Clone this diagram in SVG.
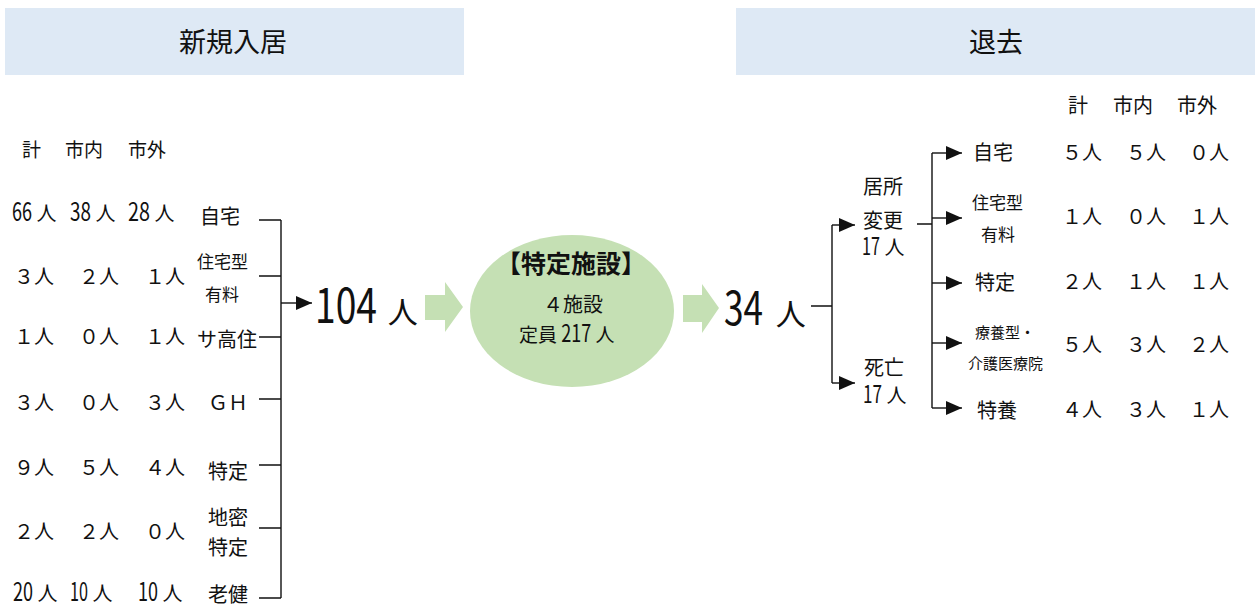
<svg xmlns="http://www.w3.org/2000/svg" width="1255" height="610" viewBox="0 0 1255 610">
<style>
text{font-family:"Noto Sans CJK JP","Noto Sans",sans-serif;fill:#111;}
.h{font-size:27px;}
.t{font-size:20px;}
.s{font-size:17px;}
.xs{font-size:15px;}
.n{font-size:25px;}
.ln{stroke:#111;stroke-width:1.4;fill:none;}
.hdr{fill:#dee9f5;}
.grn{fill:#c5e0b4;}
</style>
<defs>
<marker id="ah" markerUnits="userSpaceOnUse" markerWidth="16" markerHeight="14" refX="16" refY="7" orient="auto">
<path d="M0,0 L16,7 L0,14 Z" fill="#111"/>
</marker>
</defs>

<g id="header-in"><rect class="hdr" x="5" y="8" width="459" height="67"/><text class="h" x="233" y="52" text-anchor="middle">新規入居</text></g>
<g id="header-out"><rect class="hdr" x="736" y="8" width="519" height="67"/><text class="h" x="996" y="52" text-anchor="middle">退去</text></g>

<g id="left-head">
<text x="22" y="157" style="font-size:19px">計</text>
<text x="65" y="157" style="font-size:19px">市内</text>
<text x="128" y="157" style="font-size:19px">市外</text>
</g>

<g id="in-home">
<text class="t" x="12" y="221"><tspan class="n" textLength="20" lengthAdjust="spacingAndGlyphs">66</tspan> 人</text>
<text class="t" x="70" y="221"><tspan class="n" textLength="21" lengthAdjust="spacingAndGlyphs">38</tspan> 人</text>
<text class="t" x="128" y="221"><tspan class="n" textLength="22" lengthAdjust="spacingAndGlyphs">28</tspan> 人</text>
<text class="t" x="200" y="224">自宅</text>
</g>
<g id="in-yuryo">
<text class="t" x="14" y="284">３人</text><text class="t" x="79" y="284">２人</text><text class="t" x="145" y="284">１人</text>
<text class="s" x="197" y="268">住宅型</text><text class="s" x="205" y="301">有料</text>
</g>
<g id="in-sako">
<text class="t" x="14" y="344">１人</text><text class="t" x="79" y="344">０人</text><text class="t" x="145" y="344">１人</text>
<text class="t" x="197" y="347">サ高住</text>
</g>
<g id="in-gh">
<text class="t" x="14" y="410">３人</text><text class="t" x="79" y="410">０人</text><text class="t" x="145" y="410">３人</text>
<text class="t" x="208" y="410">ＧＨ</text>
</g>
<g id="in-tokutei">
<text class="t" x="14" y="475">９人</text><text class="t" x="79" y="475">５人</text><text class="t" x="145" y="475">４人</text>
<text class="t" x="208" y="479">特定</text>
</g>
<g id="in-chimitsu">
<text class="t" x="14" y="539">２人</text><text class="t" x="79" y="539">２人</text><text class="t" x="145" y="539">０人</text>
<text class="t" x="208" y="525">地密</text><text class="t" x="208" y="555">特定</text>
</g>
<g id="in-roken">
<text class="t" x="13" y="601"><tspan class="n" textLength="20" lengthAdjust="spacingAndGlyphs">20</tspan> 人</text>
<text class="t" x="70" y="601"><tspan class="n" textLength="18" lengthAdjust="spacingAndGlyphs">10</tspan> 人</text>
<text class="t" x="138" y="601"><tspan class="n" textLength="20" lengthAdjust="spacingAndGlyphs">10</tspan> 人</text>
<text class="t" x="208" y="602">老健</text>
</g>

<g id="total-in"><text x="315" y="323"><tspan style="font-size:48px" textLength="62" lengthAdjust="spacingAndGlyphs">104</tspan><tspan dx="4" style="font-size:30px"> 人</tspan></text></g>

<g id="arrow-in"><path class="grn" d="M425,295 H445 V282 L463,307 L445,332 V320 H425 Z"/></g>

<g id="facility">
<ellipse class="grn" cx="572" cy="311" rx="102" ry="76"/>
<text x="571" y="273" text-anchor="middle" style="font-size:25px;font-weight:bold">【特定施設】</text>
<text x="573" y="312" text-anchor="middle" style="font-size:20px">４施設</text>
<text x="519" y="342" style="font-size:19px">定員 <tspan style="font-size:24px" textLength="30" lengthAdjust="spacingAndGlyphs">217</tspan> 人</text>
</g>

<g id="arrow-out"><path class="grn" d="M683,295 H702 V284 L719,308 L702,333 V322 H683 Z"/></g>

<g id="total-out"><text x="724" y="325"><tspan style="font-size:46px" textLength="39" lengthAdjust="spacingAndGlyphs">34</tspan><tspan dx="6" style="font-size:30px"> 人</tspan></text></g>

<g id="move">
<text class="t" x="883" y="194" text-anchor="middle">居所</text>
<text class="t" x="883" y="228" text-anchor="middle">変更</text>
<text class="t" x="862" y="255"><tspan style="font-size:24px" textLength="18" lengthAdjust="spacingAndGlyphs">17</tspan> 人</text>
</g>
<g id="death">
<text class="t" x="884" y="375" text-anchor="middle">死亡</text>
<text class="t" x="863" y="403"><tspan style="font-size:24px" textLength="19" lengthAdjust="spacingAndGlyphs">17</tspan> 人</text>
</g>

<g id="right-head">
<text x="1068" y="113" style="font-size:20px">計</text>
<text x="1113" y="113" style="font-size:20px">市内</text>
<text x="1177" y="113" style="font-size:20px">市外</text>
</g>
<g id="out-home">
<text class="t" x="973" y="160">自宅</text>
<text class="t" x="1062" y="160">５人</text><text class="t" x="1126" y="160">５人</text><text class="t" x="1189" y="160">０人</text>
</g>
<g id="out-yuryo">
<text class="s" x="972" y="209">住宅型</text><text class="s" x="981" y="241">有料</text>
<text class="t" x="1062" y="224">１人</text><text class="t" x="1126" y="224">０人</text><text class="t" x="1189" y="224">１人</text>
</g>
<g id="out-tokutei">
<text class="t" x="975" y="290">特定</text>
<text class="t" x="1062" y="289">２人</text><text class="t" x="1126" y="289">１人</text><text class="t" x="1189" y="289">１人</text>
</g>
<g id="out-ryoyo">
<text class="xs" x="975" y="338">療養型・</text><text class="xs" x="968" y="369">介護医療院</text>
<text class="t" x="1062" y="352">５人</text><text class="t" x="1126" y="352">３人</text><text class="t" x="1189" y="352">２人</text>
</g>
<g id="out-tokuyo">
<text class="t" x="977" y="418">特養</text>
<text class="t" x="1062" y="417">４人</text><text class="t" x="1126" y="417">３人</text><text class="t" x="1189" y="417">１人</text>
</g>

<g id="connectors">
<path class="ln" d="M259,220 H281 M259,276 H281 M259,337 H281 M259,399 H281 M259,465 H281 M259,528 H281 M259,598 H281 M281,220 V598"/>
<path class="ln" d="M281,303 H312" marker-end="url(#ah)"/>
<path class="ln" d="M811,306 H832 M832,225 V383"/>
<path class="ln" d="M832,225 H855" marker-end="url(#ah)"/>
<path class="ln" d="M832,383 H855" marker-end="url(#ah)"/>
<path class="ln" d="M917,224 H932 M932,153 V408"/>
<path class="ln" d="M932,153 H962" marker-end="url(#ah)"/>
<path class="ln" d="M932,218 H962" marker-end="url(#ah)"/>
<path class="ln" d="M932,283 H962" marker-end="url(#ah)"/>
<path class="ln" d="M932,343 H962" marker-end="url(#ah)"/>
<path class="ln" d="M932,408 H962" marker-end="url(#ah)"/>
</g>
</svg>
